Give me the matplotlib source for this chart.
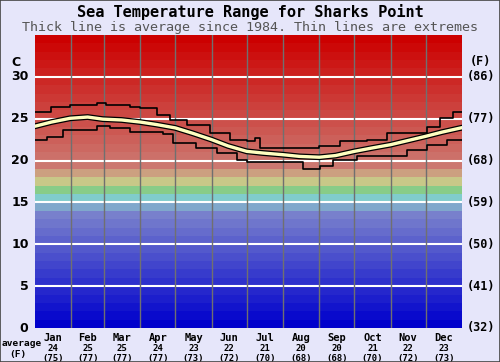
import matplotlib
matplotlib.use("Agg")
import matplotlib.pyplot as plt
import matplotlib.patheffects as pe
import numpy as np

# ---- data ----
months = ["Jan", "Feb", "Mar", "Apr", "May", "Jun", "Jul", "Aug", "Sep", "Oct", "Nov", "Dec"]
month_avg_c = [24, 25, 25, 24, 23, 22, 21, 20, 20, 21, 22, 23]
month_avg_f = [75, 77, 77, 77, 73, 72, 70, 68, 68, 70, 72, 73]
month_start_days = [1, 32, 60, 91, 121, 152, 182, 213, 244, 274, 305, 335, 366]

avg_days = [1, 15, 31, 46, 59, 75, 91, 105, 121, 136, 152, 166, 182, 196, 213, 227, 244,
            258, 274, 289, 305, 320, 335, 349, 365]
avg_vals = [24.1, 24.6, 25.05, 25.2, 24.95, 24.85, 24.6, 24.3, 23.9, 23.25, 22.5, 21.75,
            21.1, 20.9, 20.7, 20.5, 20.4, 20.6, 21.1, 21.5, 21.9, 22.4, 22.9, 23.4, 23.9]

max_days = [1, 15, 31, 54, 62, 82, 91, 105, 116, 131, 151, 168, 182, 189, 193, 244, 262,
            285, 302, 336, 347, 358, 366]
max_vals = [25.8, 26.4, 26.6, 26.85, 26.6, 26.4, 26.25, 25.45, 24.8, 24.25, 23.3, 22.5,
            22.3, 22.7, 21.5, 21.7, 22.3, 22.4, 23.3, 24.0, 25.05, 25.8, 25.8]

min_days = [1, 11, 25, 54, 65, 82, 110, 119, 139, 157, 174, 182, 230, 245, 256, 276, 319,
            336, 353, 366]
min_vals = [22.5, 22.85, 23.65, 24.1, 23.9, 23.45, 23.2, 22.1, 21.5, 20.9, 20.1, 19.8,
            19.0, 19.35, 20.1, 20.5, 21.3, 21.9, 22.5, 22.5]

c_ticks = [0, 5, 10, 15, 20, 25, 30]
f_labels = ["(32)", "(41)", "(50)", "(59)", "(68)", "(77)", "(86)"]

# ---- figure ----
W, H = 500, 362
fig = plt.figure(figsize=(W / 100, H / 100), dpi=100)
bg = "#e6e6fa"
fig.patch.set_facecolor(bg)

ax = fig.add_axes([35 / W, (H - 328) / H, (462 - 35) / W, (328 - 35) / H])
ax.set_xlim(1, 366)
ax.set_ylim(0, 35)


def band_color(i):
    if i <= 13:
        t = i / 13
        return (0 + 120 * t) / 255, (0 + 128 * t) / 255, (204 - 0 * t) / 255
    special = {14: (128, 168, 204), 15: (128, 204, 204), 16: (136, 204, 136),
               17: (200, 200, 136), 18: (204, 160, 128)}
    if i in special:
        return tuple(v / 255 for v in special[i])
    t = (i - 19) / 15
    return 204 / 255, (120 - 120 * t) / 255, (112 - 112 * t) / 255


for i in range(35):
    ax.axhspan(i, i + 1, color=band_color(i), lw=0, zorder=0)

for y in c_ticks[1:]:
    ax.axhline(y, color="white", lw=1.5, zorder=1)
for d in month_start_days[1:-1]:
    ax.axvline(d, color="#707070", lw=1, zorder=1)

ax.plot(max_days, max_vals, drawstyle="steps-post", color="black", lw=1.2, zorder=3)
ax.plot(min_days, min_vals, drawstyle="steps-post", color="black", lw=1.2, zorder=3)
ax.plot(avg_days, avg_vals, color="#ffffc0", lw=2.4,
        path_effects=[pe.Stroke(linewidth=4.2, foreground="black"), pe.Normal()], zorder=4)

for s in ax.spines.values():
    s.set_visible(False)
ax.set_xticks([])
ax.set_yticks([])

# left labels (C)
for v in c_ticks:
    ax.text(-0.015, v, str(v), ha="right", va="center", fontsize=9, fontweight="bold",
            family="DejaVu Sans", transform=ax.get_yaxis_transform(), clip_on=False)
fig.text(16 / W, 1 - 62 / H, "C", ha="center", va="center", fontsize=9, fontweight="bold",
         family="DejaVu Sans")

# right labels (F)
for v, lab in zip(c_ticks, f_labels):
    ax.text(1.012, v, lab, ha="left", va="center", fontsize=8.5, fontweight="bold",
            family="DejaVu Sans Mono", transform=ax.get_yaxis_transform(), clip_on=False)
fig.text(480 / W, 1 - 62 / H, "(F)", ha="center", va="center", fontsize=8.5,
         fontweight="bold", family="DejaVu Sans Mono")

# month labels
for i, m in enumerate(months):
    xc = (month_start_days[i] + month_start_days[i + 1]) / 2
    ax.text(xc, -0.018, m, ha="center", va="top", fontsize=7.5, fontweight="bold",
            family="DejaVu Sans Mono", transform=ax.get_xaxis_transform(), clip_on=False)
    ax.text(xc, -0.055, str(month_avg_c[i]), ha="center", va="top", fontsize=6.5,
            fontweight="bold", family="DejaVu Sans Mono",
            transform=ax.get_xaxis_transform(), clip_on=False)
    ax.text(xc, -0.09, "(%d)" % month_avg_f[i], ha="center", va="top", fontsize=6.5,
            fontweight="bold", family="DejaVu Sans Mono",
            transform=ax.get_xaxis_transform(), clip_on=False)

fig.text(22 / W, 1 - 344 / H, "average", ha="center", va="center", fontsize=6.8,
         fontweight="bold", family="DejaVu Sans Mono")
fig.text(18 / W, 1 - 354 / H, "(F)", ha="center", va="center", fontsize=6.8,
         fontweight="bold", family="DejaVu Sans Mono")

# titles
fig.text(0.5, 1 - 12 / H, "Sea Temperature Range for Sharks Point", ha="center", va="center",
         fontsize=11, fontweight="bold", family="DejaVu Sans Mono")
fig.text(0.5, 1 - 28 / H, "Thick line is average since 1984. Thin lines are extremes",
         ha="center", va="center", fontsize=9.6, color="#555555", family="DejaVu Sans Mono")

fig.add_artist(plt.Rectangle((0, 0), 1, 1, transform=fig.transFigure, fill=False,
                             edgecolor="#444444", lw=1.2))

fig.savefig("out.png", dpi=100, facecolor=bg)
